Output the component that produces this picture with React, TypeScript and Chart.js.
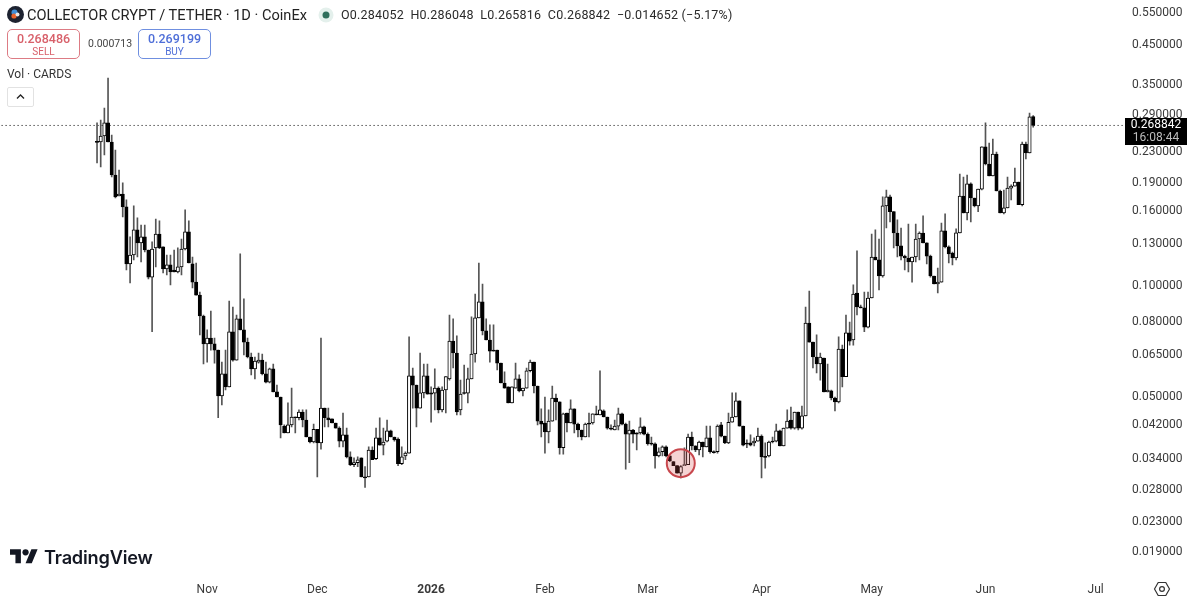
import React, { useEffect, useRef } from "react";
import { Chart, registerables } from "chart.js";

Chart.register(...registerables);

const opens = [
.2425,.2425,.2517,.2731,.2425,.1973,.1731,.1753,.1617,.1133,.1198,.1401,.1292,.1341,.1236,.1044,.1252,.1366,.1260,.1098,.1126,.1091,.1078,.1112,.1244,.1384,.1133,.1012,.0933,.0819,
.0688,.0714,.0688,.0662,.0497,.0571,.0526,.0742,.0622,.0804,.0751,.0696,.0634,.0589,.0614,.0622,.0571,.0542,.0589,.0510,.0494,.0412,.0395,.0415,.0436,.0434,.0450,.0428,.0385,.0373,
.0404,.0371,.0461,.0434,.0431,.0420,.0407,.0375,.0390,.0340,.0324,.0328,.0338,.0300,.0300,.0355,.0336,.0383,.0366,.0375,.0400,.0385,.0380,.0326,.0342,.0348,.0564,.0532,.0461,.0507,
.0564,.0507,.0506,.0522,.0456,.0516,.0553,.0700,.0650,.0456,.0506,.0506,.0553,.0646,.0809,.0894,.0746,.0705,.0662,.0662,.0610,.0539,.0526,.0476,.0522,.0553,.0513,.0522,.0582,.0614,
.0529,.0425,.0420,.0397,.0425,.0491,.0479,.0360,.0447,.0420,.0459,.0417,.0402,.0385,.0420,.0420,.0445,.0442,.0453,.0436,.0407,.0402,.0412,.0445,.0417,.0392,.0402,.0395,.0395,.0410,
.0392,.0369,.0369,.0342,.0351,.0362,.0342,.0330,.0322,.0307,.0322,.0324,.0385,.0364,.0355,.0373,.0362,.0383,.0351,.0351,.0415,.0387,.0371,.0422,.0436,.0482,.0412,.0369,.0371,.0371,
.0375,.0387,.0340,.0342,.0375,.0375,.0400,.0364,.0407,.0428,.0407,.0450,.0407,.0439,.0784,.0696,.0634,.0607,.0630,.0510,.0513,.0491,.0479,.0666,.0561,.0737,.0705,.0945,.0866,.0861,
.0764,.0916,.1183,.1162,.1051,.1627,.1721,.1570,.1374,.1268,.1190,.1176,.1148,.1183,.1324,.1374,.1292,.1190,.1051,.1000,.1012,.1392,.1260,.1213,.1176,.1375,.1731,.1557,.1867,.1710,
.1627,.1807,.2351,.2114,.1961,.2250,.1786,.1557,.1607,.1818,.1842,.1889,.1640,.2395,.2264,.284052];

const highs = [
.2731,.2782,.2998,.3615,.2533,.2307,.2036,.1878,.1689,.1341,.1627,.1510,.1445,.1445,.1236,.1300,.1500,.1482,.1260,.1198,.1198,.1236,.1252,.1324,.1587,.1482,.1183,.1140,.0951,.0824,
.0751,.0845,.0714,.0662,.0614,.0662,.0899,.0866,.0824,.1206,.0911,.0714,.0650,.0634,.0650,.0646,.0614,.0592,.0607,.0532,.0494,.0415,.0476,.0522,.0436,.0456,.0456,.0456,.0385,.0417,
.0404,.0714,.0461,.0461,.0431,.0420,.0410,.0447,.0407,.0351,.0338,.0340,.0338,.0320,.0362,.0362,.0407,.0434,.0407,.0428,.0402,.0385,.0383,.0362,.0351,.0719,.0592,.0532,.0650,.0607,
.0607,.0526,.0589,.0526,.0526,.0561,.0824,.0804,.0723,.0549,.0603,.0592,.0815,.0939,.1140,.1000,.0804,.0775,.0775,.0662,.0610,.0578,.0526,.0526,.0610,.0567,.0522,.0592,.0622,.0614,
.0529,.0459,.0494,.0456,.0529,.0503,.0479,.0447,.0447,.0485,.0459,.0420,.0402,.0420,.0447,.0445,.0467,.0582,.0456,.0436,.0415,.0428,.0461,.0447,.0420,.0425,.0404,.0395,.0434,.0412,
.0395,.0385,.0371,.0360,.0364,.0364,.0342,.0330,.0322,.0322,.0360,.0392,.0397,.0364,.0375,.0373,.0412,.0412,.0353,.0415,.0422,.0387,.0447,.0507,.0507,.0482,.0412,.0378,.0390,.0383,
.0407,.0390,.0371,.0375,.0385,.0417,.0402,.0407,.0456,.0464,.0450,.0450,.0467,.0866,.0957,.0696,.0728,.0650,.0630,.0607,.0516,.0494,.0719,.0683,.0824,.0788,.0994,.1229,.0877,.0951,
.0951,.1366,.1401,.1324,.1721,.1797,.1742,.1570,.1491,.1418,.1198,.1454,.1183,.1454,.1384,.1529,.1292,.1198,.1051,.1105,.1463,.1548,.1268,.1221,.1410,.1985,.1947,.1973,.1878,.1710,
.1807,.2351,.2731,.2409,.2470,.2278,.1797,.1797,.1947,.1855,.2062,.1889,.2425,.2425,.2906,.286048];

const lows = [
.2127,.2074,.2236,.2425,.1949,.1710,.1731,.1519,.1091,.1006,.1162,.1183,.1148,.1221,.1032,.0742,.1112,.1247,.1071,.1058,.0994,.1078,.1071,.1058,.1236,.1140,.0975,.0933,.0728,.0607,
.0614,.0662,.0610,.0434,.0470,.0516,.0526,.0618,.0622,.0751,.0642,.0630,.0567,.0553,.0610,.0567,.0539,.0539,.0510,.0494,.0383,.0395,.0395,.0410,.0395,.0428,.0410,.0385,.0371,.0371,
.0300,.0357,.0410,.0410,.0420,.0407,.0362,.0362,.0338,.0322,.0320,.0320,.0300,.0281,.0300,.0334,.0334,.0366,.0344,.0373,.0385,.0375,.0322,.0324,.0334,.0348,.0461,.0410,.0461,.0491,
.0503,.0422,.0456,.0447,.0450,.0447,.0549,.0592,.0442,.0442,.0503,.0476,.0553,.0614,.0809,.0728,.0705,.0614,.0658,.0585,.0539,.0522,.0476,.0476,.0522,.0510,.0497,.0522,.0578,.0507,
.0415,.0385,.0348,.0371,.0425,.0428,.0346,.0346,.0397,.0420,.0395,.0385,.0378,.0385,.0385,.0417,.0442,.0442,.0436,.0404,.0402,.0402,.0402,.0415,.0315,.0328,.0371,.0355,.0392,.0390,
.0366,.0366,.0317,.0340,.0342,.0340,.0330,.0322,.0307,.0298,.0322,.0324,.0355,.0351,.0344,.0340,.0362,.0348,.0348,.0348,.0385,.0369,.0369,.0422,.0436,.0412,.0364,.0360,.0364,.0364,
.0375,.0298,.0317,.0340,.0371,.0373,.0364,.0364,.0407,.0404,.0404,.0402,.0404,.0439,.0696,.0592,.0574,.0549,.0510,.0510,.0485,.0453,.0476,.0526,.0561,.0683,.0683,.0824,.0861,.0742,
.0760,.0916,.1162,.0963,.1044,.1418,.1473,.1252,.1183,.1162,.1091,.1078,.1012,.1148,.1162,.1292,.1133,.1044,.1000,.0945,.1012,.1252,.1140,.1126,.1162,.1375,.1557,.1491,.1473,.1617,
.1570,.1797,.2101,.1961,.1961,.1786,.1557,.1548,.1607,.1689,.1842,.1640,.1627,.2181,.2264,.265816];

const closes = [
.2420,.2517,.2731,.2425,.1973,.1721,.1753,.1617,.1133,.1198,.1401,.1292,.1341,.1236,.1044,.1244,.1366,.1252,.1098,.1126,.1078,.1078,.1112,.1244,.1384,.1140,.1012,.0933,.0819,.0688,
.0714,.0688,.0662,.0497,.0571,.0526,.0742,.0622,.0804,.0751,.0696,.0634,.0589,.0618,.0622,.0571,.0542,.0589,.0510,.0494,.0415,.0395,.0415,.0436,.0434,.0450,.0428,.0385,.0373,.0404,
.0371,.0461,.0434,.0428,.0420,.0407,.0375,.0390,.0340,.0324,.0328,.0334,.0300,.0298,.0355,.0334,.0383,.0366,.0373,.0400,.0385,.0378,.0326,.0340,.0348,.0564,.0532,.0461,.0507,.0564,
.0503,.0503,.0522,.0456,.0516,.0561,.0700,.0650,.0450,.0503,.0505,.0553,.0646,.0809,.0894,.0746,.0705,.0658,.0658,.0610,.0539,.0522,.0476,.0526,.0553,.0513,.0522,.0582,.0614,.0529,
.0425,.0417,.0397,.0425,.0491,.0479,.0360,.0445,.0420,.0459,.0417,.0402,.0385,.0417,.0417,.0445,.0442,.0456,.0436,.0407,.0404,.0412,.0445,.0417,.0392,.0402,.0392,.0392,.0410,.0392,
.0369,.0368,.0342,.0351,.0362,.0342,.0332,.0322,.0307,.0320,.0324,.0385,.0364,.0355,.0373,.0362,.0383,.0351,.0349,.0412,.0387,.0371,.0422,.0436,.0482,.0412,.0366,.0368,.0366,.0375,
.0387,.0340,.0339,.0373,.0373,.0400,.0364,.0407,.0425,.0407,.0450,.0407,.0439,.0784,.0696,.0634,.0607,.0634,.0510,.0516,.0491,.0479,.0666,.0561,.0737,.0700,.0939,.0866,.0861,.0764,
.0916,.1183,.1162,.1051,.1627,.1721,.1570,.1374,.1268,.1190,.1176,.1148,.1183,.1324,.1374,.1292,.1190,.1051,.1000,.1012,.1392,.1260,.1206,.1176,.1375,.1731,.1557,.1867,.1710,.1627,
.1807,.2351,.2114,.1961,.2250,.1786,.1557,.1607,.1818,.1842,.1889,.1640,.2395,.2264,.2835,.268842];

const lastPrice = 0.268842;
const priceTicks = [0.55, 0.45, 0.35, 0.29, 0.23, 0.19, 0.16, 0.13, 0.1, 0.08, 0.065, 0.05, 0.042, 0.034, 0.028, 0.023, 0.019];
const monthTicks: Record<string, string> = {
  "2025-11-01": "Nov", "2025-12-01": "Dec", "2026-01-01": "2026", "2026-02-01": "Feb",
  "2026-03-01": "Mar", "2026-04-01": "Apr", "2026-05-01": "May", "2026-06-01": "Jun", "2026-07-01": "Jul",
};
const firstCandleDate = "2025-10-02";
const leadDays = 26;
const tailDays = 25;
const markerDate = "2026-03-10";
const markerPrice = 0.0327;

const days: string[] = [];
const startMs = Date.parse(firstCandleDate + "T00:00:00Z") - leadDays * 86400000;
for (let d = 0; d < leadDays + opens.length + tailDays; d++) {
  days.push(new Date(startMs + d * 86400000).toISOString().slice(0, 10));
}

const UI_FONT = "Roboto, 'Noto Sans', sans-serif";

export default function App() {
  const ref = useRef<HTMLCanvasElement>(null);
  useEffect(() => {
    const pad = (arr: any[]) => [...Array(leadDays).fill(null), ...arr, ...Array(tailDays).fill(null)];
    const wicks = pad(lows.map((l, i) => [l, highs[i]]));
    const bodies = pad(opens.map((o, i) => [o, closes[i]]));
    const ups = pad(opens.map((o, i) => closes[i] >= o));
    const chart = new Chart(ref.current!, {
      type: "bar",
      data: {
        labels: days,
        datasets: [
          {
            type: "line",
            data: days.map((d) => (d === markerDate ? markerPrice : null)),
            pointRadius: 14,
            pointBackgroundColor: "rgba(214,70,70,0.24)",
            pointBorderColor: "#c8474d",
            pointBorderWidth: 2,
            showLine: false,
            order: 0,
          },
          {
            type: "line",
            data: days.map(() => lastPrice),
            borderColor: "#000",
            borderWidth: 1,
            borderDash: [1, 3],
            pointRadius: 0,
            order: 3,
          },
          {
            type: "bar",
            data: bodies,
            barThickness: 3.4,
            grouped: false,
            minBarLength: 1,
            borderSkipped: false,
            borderWidth: 1,
            borderColor: "#000",
            backgroundColor: (c: any) => (ups[c.dataIndex] ? "#fff" : "#000"),
            order: 1,
          },
          {
            type: "bar",
            data: wicks,
            barThickness: 1,
            grouped: false,
            borderWidth: 0,
            backgroundColor: "#555",
            order: 2,
          },
        ],
      } as any,
      options: {
        animation: false,
        responsive: false,
        devicePixelRatio: 1,
        layout: { autoPadding: false, padding: { left: 1.58, right: 0, top: 0, bottom: 0 } },
        plugins: { legend: { display: false }, tooltip: { enabled: false } },
        scales: {
          x: {
            type: "category",
            offset: false,
            grid: { display: false, drawTicks: false },
            border: { display: false },
            afterBuildTicks: (s: any) => {
              s.ticks = s.ticks.filter((t: any) => monthTicks[days[t.value]]);
            },
            afterFit: (s: any) => {
              s.height = 28;
              s.paddingLeft = 0;
              s.paddingRight = 0;
            },
            ticks: {
              autoSkip: false,
              maxRotation: 0,
              padding: 11,
              color: "#3a3a3a",
              font: (c: any) => ({
                family: UI_FONT,
                size: 12,
                weight: c.tick && c.tick.label === "2026" ? "bold" : "normal",
              }),
              callback: function (this: any, v: any) {
                return monthTicks[days[v]] || "";
              },
            },
          },
          y: {
            type: "logarithmic",
            position: "right",
            min: 0.01658,
            max: 0.588,
            grid: { display: false, drawTicks: false },
            border: { display: false },
            afterBuildTicks: (s: any) => {
              s.ticks = priceTicks.map((v) => ({ value: v }));
            },
            afterFit: (s: any) => {
              s.width = 75;
              s.paddingTop = 0;
              s.paddingBottom = 0;
            },
            ticks: {
              autoSkip: false,
              padding: 7,
              color: "#3a3a3a",
              font: { family: UI_FONT, size: 12, lineHeight: 0.33 },
              callback: (v: any) => ["", Number(v).toFixed(6)],
            },
          },
        },
      } as any,
    });
    return () => chart.destroy();
  }, []);

  const abs = (s: React.CSSProperties): React.CSSProperties => ({ position: "absolute", whiteSpace: "nowrap", ...s });

  return (
    <div style={{ position: "fixed", left: 0, top: 0, width: 1200, height: 600, background: "#fff", fontFamily: UI_FONT, overflow: "hidden" }}>
      <canvas ref={ref} width={1200} height={600} style={{ position: "absolute", left: 0, top: 0, width: 1200, height: 600 }} />

      <svg style={abs({ left: 7, top: 6 })} width="17" height="17" viewBox="0 0 17 17">
        <circle cx="8.5" cy="8.5" r="8.5" fill="#1d2230" />
        <circle cx="7.5" cy="6.5" r="3" fill="#3f8fd8" />
        <circle cx="7" cy="10" r="2.6" fill="#e8632c" />
        <circle cx="10.5" cy="8.5" r="2" fill="#e8e8e8" />
      </svg>
      <div style={abs({ left: 27, top: 5, fontSize: 14.6, lineHeight: "20px", color: "#222" })}>COLLECTOR CRYPT / TETHER · 1D · CoinEx</div>
      <svg style={abs({ left: 318, top: 7 })} width="16" height="16" viewBox="0 0 16 16">
        <circle cx="8" cy="8" r="7.5" fill="#e4f0ec" />
        <circle cx="8" cy="8" r="3.5" fill="#2f6f5c" />
      </svg>
      <div style={abs({ left: 341, top: 7, fontSize: 12.5, lineHeight: "16px", color: "#2a2a2a", letterSpacing: 0.2 })}>
        O0.284052&nbsp; H0.286048&nbsp; L0.265816&nbsp; C0.268842&nbsp; −0.014652 (−5.17%)
      </div>

      <div style={abs({ left: 7, top: 29, width: 71, height: 28, border: "1px solid #dd7b84", borderRadius: 5, textAlign: "center", color: "#d8606a" })}>
        <div style={{ fontSize: 12.5, fontWeight: 500, lineHeight: "14px", marginTop: 2 }}>0.268486</div>
        <div style={{ fontSize: 10, lineHeight: "12px" }}>SELL</div>
      </div>
      <div style={abs({ left: 88, top: 38, fontSize: 10.5, lineHeight: "12px", color: "#444" })}>0.000713</div>
      <div style={abs({ left: 138, top: 29, width: 71, height: 28, border: "1px solid #6f8fe0", borderRadius: 5, textAlign: "center", color: "#4f6fd8" })}>
        <div style={{ fontSize: 12.5, fontWeight: 500, lineHeight: "14px", marginTop: 2 }}>0.269199</div>
        <div style={{ fontSize: 10, lineHeight: "12px" }}>BUY</div>
      </div>

      <div style={abs({ left: 7, top: 66, fontSize: 12, lineHeight: "16px", color: "#333" })}>Vol · CARDS</div>
      <div style={abs({ left: 7, top: 87, width: 25, height: 18, border: "1px solid #e2e2e2", borderRadius: 2 })}>
        <svg style={{ position: "absolute", left: 7, top: 5 }} width="11" height="8" viewBox="0 0 11 8">
          <path d="M2 5.5 L5.5 2 L9 5.5" fill="none" stroke="#222" strokeWidth="1.3" />
        </svg>
      </div>

      <div style={abs({ left: 1125, top: 118, width: 62, height: 27, background: "#000", textAlign: "center" })}>
        <div style={{ fontSize: 12, lineHeight: "13px", color: "#fff", marginTop: 0 }}>0.268842</div>
        <div style={{ fontSize: 12, lineHeight: "13px", color: "#bdbdbd" }}>16:08:44</div>
      </div>

      <svg style={abs({ left: 10, top: 546 })} width="28" height="22" viewBox="0 0 36 28">
        <path d="M14 22H7V11H0V4h14v18zM28 22h-8l7.5-18h8L28 22z" fill="#131722" />
        <circle cx="20" cy="8" r="4" fill="#131722" />
      </svg>
      <div style={abs({ left: 44, top: 545, fontFamily: "Inter, sans-serif", fontSize: 18.2, fontWeight: 600, lineHeight: "24px", color: "#131722", letterSpacing: -0.2 })}>TradingView</div>

      <svg style={abs({ left: 1153, top: 580 })} width="18" height="18" viewBox="0 0 18 18">
        <path d="M5.2 2.5 H12.8 L16.5 9 L12.8 15.5 H5.2 L1.5 9 Z" fill="none" stroke="#333" strokeWidth="1.2" strokeLinejoin="round" />
        <circle cx="9" cy="9" r="2.4" fill="none" stroke="#333" strokeWidth="1.2" />
      </svg>
    </div>
  );
}
